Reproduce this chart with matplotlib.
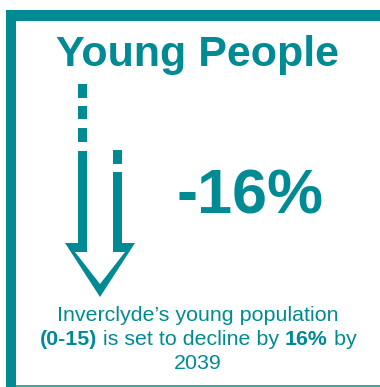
import matplotlib
matplotlib.use("Agg")
import matplotlib.pyplot as plt
from matplotlib.patches import Rectangle, Polygon

TEAL = "#008A94"
W, H = 380, 387

title = "Young People"
change_pct = -16
caption_lines = [
    [("Inverclyde\u2019s young population", "normal")],
    [("(0-15)", "bold"), (" is set to decline by ", "normal"), (f"{abs(change_pct)}%", "bold"), (" by", "normal")],
    [("2039", "normal")],
]

plt.rcParams["font.family"] = ["Liberation Sans", "DejaVu Sans"]

fig = plt.figure(figsize=(W / 100, H / 100), dpi=100)
ax = fig.add_axes([0, 0, 1, 1])
ax.set_xlim(0, W)
ax.set_ylim(H, 0)
ax.axis("off")

# frame: thick top and left bars, thin bottom rule
ax.add_patch(Rectangle((6, 10), W - 6, 11, color=TEAL, lw=0))
ax.add_patch(Rectangle((6, 10), 10, H - 10, color=TEAL, lw=0))
ax.add_patch(Rectangle((16, 385), W - 16, 1.5, color="#3AA6AE", lw=0))

# title
ax.text(198, 66, title, ha="center", va="baseline", color=TEAL,
        fontsize=43 * 0.72, fontweight="bold")

# big percentage
ax.text(250, 213, f"{change_pct}%", ha="center", va="baseline", color=TEAL,
        fontsize=63 * 0.72, fontweight="bold")

# hollow down arrow with dashed tails
arrow = [(78, 151), (78, 243), (65, 243), (100, 297), (135, 243), (122, 243),
         (122, 172), (113, 172), (113, 252), (125, 252), (100, 284), (75, 252),
         (87, 252), (87, 151)]
ax.add_patch(Polygon(arrow, closed=True, color=TEAL, lw=0))
for (x0, y0, y1) in [(78, 84, 98), (78, 106, 119), (78, 128, 142), (113, 150, 164)]:
    ax.add_patch(Rectangle((x0, y0), 9, y1 - y0, color=TEAL, lw=0))

# caption with mixed weights, each line centred
fig.canvas.draw()
renderer = fig.canvas.get_renderer()
fs = 21.4 * 0.72
baselines = [321, 345, 369]
cx = 198
for parts, yb in zip(caption_lines, baselines):
    texts = []
    for s, wt in parts:
        t = ax.text(0, yb, s, ha="left", va="baseline", color=TEAL,
                    fontsize=fs, fontweight=wt)
        texts.append(t)
    widths = [t.get_window_extent(renderer).width for t in texts]
    x = cx - sum(widths) / 2
    for t, w in zip(texts, widths):
        t.set_x(x)
        x += w

fig.savefig("out.png", dpi=100)
